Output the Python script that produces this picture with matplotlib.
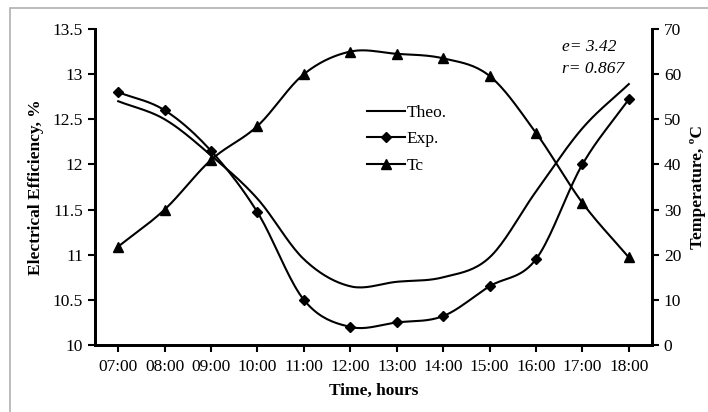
import numpy as np
import matplotlib.pyplot as plt
from matplotlib.patches import Rectangle

plt.rcParams['font.family'] = ['Liberation Serif', 'DejaVu Serif']
plt.rcParams['font.size'] = 12.5

# data
horas = ["07:00", "08:00", "09:00", "10:00", "11:00", "12:00",
         "13:00", "14:00", "15:00", "16:00", "17:00", "18:00"]
theo = [12.70, 12.50, 12.10, 11.62, 10.95, 10.65, 10.70, 10.75, 10.97, 11.70, 12.40, 12.89]
exp_ = [12.80, 12.60, 12.15, 11.47, 10.50, 10.20, 10.25, 10.32, 10.65, 10.95, 12.00, 12.72]
tc = [21.8, 30.0, 41.0, 48.5, 60.0, 65.0, 64.5, 63.5, 59.6, 47.0, 31.5, 19.4]


def suave(y, n=20):
    # catmull-rom, como las lineas suavizadas de excel
    y = np.asarray(y, float)
    p = np.concatenate([[2 * y[0] - y[1]], y, [2 * y[-1] - y[-2]]])
    xs, ys = [], []
    for i in range(len(y) - 1):
        p0, p1, p2, p3 = p[i], p[i + 1], p[i + 2], p[i + 3]
        t = np.linspace(0, 1, n, endpoint=False)
        yy = 0.5 * (2 * p1 + (-p0 + p2) * t + (2 * p0 - 5 * p1 + 4 * p2 - p3) * t**2
                    + (-p0 + 3 * p1 - 3 * p2 + p3) * t**3)
        xs.extend(i + t)
        ys.extend(yy)
    xs.append(len(y) - 1)
    ys.append(y[-1])
    return np.array(xs), np.array(ys)


x = np.arange(len(horas))

fig = plt.figure(figsize=(7.08, 4.12), dpi=100)
fig.patches.append(Rectangle((10 / 708, -0.1), 1.2, (412 - 8) / 412 + 0.1,
                             transform=fig.transFigure, fill=False,
                             edgecolor='#b0b0b0', lw=1.2))
ax = fig.add_axes([95 / 708, 67 / 412, 557 / 708, 316 / 412])
ax2 = ax.twinx()

xs, ys = suave(theo)
ax.plot(xs, ys, color='black', lw=1.5)
xs, ys = suave(exp_)
ax.plot(xs, ys, color='black', lw=1.5)
ax.plot(x, exp_, 'D', color='black', ms=5.5, ls='none')
xs, ys = suave(tc)
ax2.plot(xs, ys, color='black', lw=1.5)
ax2.plot(x, tc, '^', color='black', ms=7.5, ls='none')

# leyenda
l1, = ax.plot([], [], color='black', lw=1.5, label='Theo.')
l2, = ax.plot([], [], color='black', lw=1.5, marker='D', ms=5.5, label='Exp.')
l3, = ax.plot([], [], color='black', lw=1.5, marker='^', ms=7.5, label='Tc')
ax.legend(handles=[l1, l2, l3], loc='upper left', bbox_to_anchor=(0.461, 0.81),
          frameon=False, handlelength=2.15, handletextpad=0.1, labelspacing=0.6,
          fontsize=12.5)

ax.set_xlim(-0.5, len(horas) - 0.5)
ax.set_ylim(10, 13.5)
ax.set_yticks(np.arange(10, 13.51, 0.5))
ax.set_yticklabels(["10", "10.5", "11", "11.5", "12", "12.5", "13", "13.5"])
ax2.set_ylim(0, 70)
ax2.set_yticks(range(0, 71, 10))
ax.set_xticks(x)
ax.set_xticklabels(horas)

for a in (ax, ax2):
    a.spines['top'].set_visible(False)
    for s in ('left', 'right', 'bottom'):
        a.spines[s].set_linewidth(2)
    a.tick_params(width=1.5, length=5, labelsize=12.5)
ax.tick_params(axis='x', pad=5)

ax.set_xlabel("Time, hours", fontweight='bold', fontsize=12.5, labelpad=6)
ax.set_ylabel("Electrical Efficiency, %", fontweight='bold', fontsize=12.5, labelpad=6)
ax2.set_ylabel("Temperature, ºC", fontweight='bold', fontsize=12.5, labelpad=6)

ax.text(0.838, 0.93, "e= 3.42", transform=ax.transAxes, style='italic', fontsize=12.5, ha='left')
ax.text(0.838, 0.862, "r= 0.867", transform=ax.transAxes, style='italic', fontsize=12.5, ha='left')

plt.savefig("out.png", dpi=100)
